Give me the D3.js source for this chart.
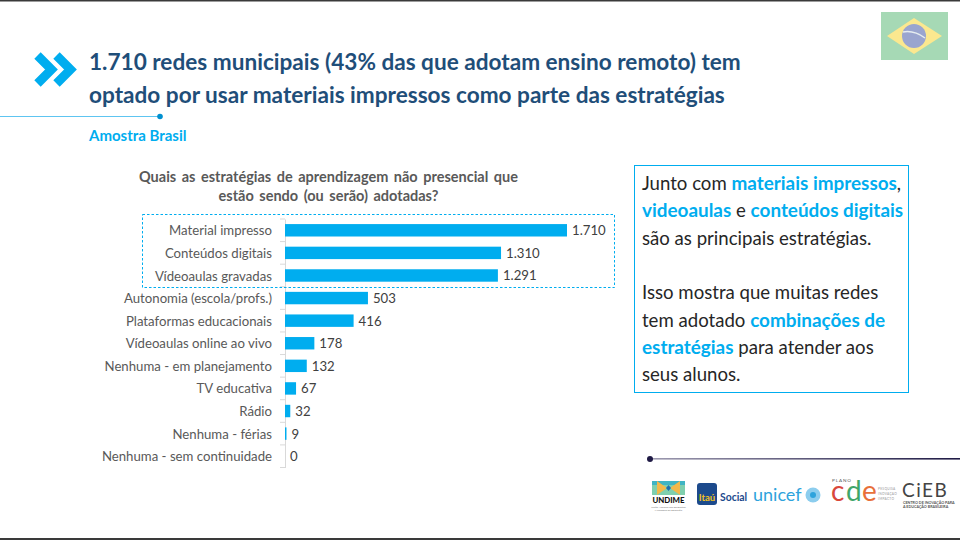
<!DOCTYPE html>
<html>
<head>
<meta charset="utf-8">
<script src="https://d3js.org/d3.v7.min.js"></script>
<style>
  html, body { margin: 0; padding: 0; background: #fff; }
  svg { display: block; font-family: Lato, "Open Sans", sans-serif; }
</style>
</head>
<body>
<div id="vis"></div>
<script>
var width = 960,
  height = 540;

var categories = [
  'Material impresso', 'Conteúdos digitais', 'Vídeoaulas gravadas',
  'Autonomia (escola/profs.)', 'Plataformas educacionais', 'Vídeoaulas online ao vivo',
  'Nenhuma - em planejamento', 'TV educativa', 'Rádio', 'Nenhuma - férias',
  'Nenhuma - sem continuidade'
];
var values = [ 1710, 1310, 1291, 503, 416, 178, 132, 67, 32, 9, 0 ];
var valueLabels = [ '1.710', '1.310', '1.291', '503', '416', '178', '132', '67', '32', '9', '0' ];

var titleLines = [
  '1.710 redes municipais (43% das que adotam ensino remoto) tem',
  'optado por usar materiais impressos como parte das estratégias'
];
var chartTitleLines = [
  'Quais as estratégias de aprendizagem não presencial que',
  'estão sendo (ou serão) adotadas?'
];
var boxLines = [
  [ [ 'Junto com ', 0 ], [ 'materiais impressos', 1 ], [ ',', 0 ] ],
  [ [ 'videoaulas', 1 ], [ ' e ', 0 ], [ 'conteúdos digitais', 1 ] ],
  [ [ 'são as principais estratégias.', 0 ] ],
  [],
  [ [ 'Isso mostra que muitas redes', 0 ] ],
  [ [ 'tem adotado ', 0 ], [ 'combinações de', 1 ] ],
  [ [ 'estratégias', 1 ], [ ' para atender aos', 0 ] ],
  [ [ 'seus alunos.', 0 ] ]
];

var blue = '#00adef',
  navy = '#1f4e79',
  textGrey = '#595959';

var svg = d3.select( '#vis' ).append( 'svg' )
  .attr( 'width', width )
  .attr( 'height', height );

// Page frame
svg.append( 'rect' ).attr( 'x', 0 ).attr( 'y', 0 ).attr( 'width', width ).attr( 'height', 1.5 ).attr( 'fill', '#3a3a3a' );
svg.append( 'rect' ).attr( 'x', 0 ).attr( 'y', 538 ).attr( 'width', width ).attr( 'height', 2 ).attr( 'fill', '#3a3a3a' );

// Header
[ 0, 19 ].forEach( dx => {
  svg.append( 'path' )
    .attr( 'd', 'M' + ( 37.5 + dx ) + ',55.5 L' + ( 51.5 + dx ) + ',69.5 L' + ( 37.5 + dx ) + ',83.5' )
    .attr( 'fill', 'none' )
    .attr( 'stroke', blue )
    .attr( 'stroke-width', 9 );
} );

svg.selectAll( 'text.title' )
  .data( titleLines )
  .enter().append( 'text' )
    .attr( 'class', 'title' )
    .attr( 'x', 89 )
    .attr( 'y', ( d, i ) => 69.5 + i * 33 )
    .attr( 'fill', navy )
    .style( 'font-size', '22.6px' )
    .style( 'font-weight', 700 )
    .text( d => d );

svg.append( 'line' ).attr( 'x1', 0 ).attr( 'x2', 160 ).attr( 'y1', 116.5 ).attr( 'y2', 116.5 )
  .attr( 'stroke', '#35b6ee' ).attr( 'stroke-width', 0.8 );
svg.append( 'circle' ).attr( 'cx', 160 ).attr( 'cy', 116.5 ).attr( 'r', 2.8 ).attr( 'fill', '#0090d0' );

svg.append( 'text' )
  .attr( 'x', 89 ).attr( 'y', 141 )
  .attr( 'fill', blue )
  .style( 'font-size', '15px' )
  .style( 'font-weight', 700 )
  .text( 'Amostra Brasil' );

// Flag
var flag = svg.append( 'g' );
flag.append( 'rect' ).attr( 'x', 881 ).attr( 'y', 12 ).attr( 'width', 67 ).attr( 'height', 48 ).attr( 'fill', '#a6d9b5' );
flag.append( 'path' ).attr( 'd', 'M887,36 L914,18 L942,36 L914,54 Z' ).attr( 'fill', '#fbe88f' );
flag.append( 'circle' ).attr( 'cx', 914 ).attr( 'cy', 36 ).attr( 'r', 12 ).attr( 'fill', '#9aa5cf' );
flag.append( 'path' ).attr( 'd', 'M903,32 Q914,30 925,38' ).attr( 'fill', 'none' ).attr( 'stroke', '#e6edf0' ).attr( 'stroke-width', 1.5 );

// Chart
svg.selectAll( 'text.chart-title' )
  .data( chartTitleLines )
  .enter().append( 'text' )
    .attr( 'class', 'chart-title' )
    .attr( 'x', 328.5 )
    .attr( 'y', ( d, i ) => 182 + i * 19 )
    .attr( 'text-anchor', 'middle' )
    .attr( 'fill', textGrey )
    .style( 'font-size', '14.5px' )
    .style( 'font-weight', 700 )
    .style( 'word-spacing', '2px' )
    .text( d => d );

var x = d3.scaleLinear()
  .domain( [ 0, 1710 ] )
  .range( [ 285, 567 ] );

var y = d3.scaleBand()
  .domain( categories )
  .range( [ 219, 467.5 ] )
  .paddingInner( 0.45 )
  .paddingOuter( 0.225 );

var yAxis = d3.axisLeft( y ).tickSize( 0 ).tickPadding( 13 );

var yG = svg.append( 'g' )
  .attr( 'transform', 'translate(285,0)' )
  .call( yAxis );
yG.select( '.domain' ).attr( 'stroke', '#d9d9d9' );
yG.selectAll( 'text' )
  .attr( 'fill', textGrey )
  .attr( 'dy', '0.38em' )
  .style( 'font-family', 'Lato, "Open Sans", sans-serif' )
  .style( 'font-size', '13.2px' );

// tick marks sit between the categories
var step = y.step();
svg.selectAll( 'line.sep' )
  .data( d3.range( categories.length + 1 ) )
  .enter().append( 'line' )
    .attr( 'class', 'sep' )
    .attr( 'x1', 280 ).attr( 'x2', 285 )
    .attr( 'y1', i => 219 + i * step )
    .attr( 'y2', i => 219 + i * step )
    .attr( 'stroke', '#d9d9d9' );

svg.selectAll( 'rect.bar' )
  .data( values )
  .enter().append( 'rect' )
    .attr( 'class', 'bar' )
    .attr( 'x', x( 0 ) )
    .attr( 'y', ( d, i ) => y( categories[ i ] ) )
    .attr( 'width', d => x( d ) - x( 0 ) )
    .attr( 'height', y.bandwidth() )
    .attr( 'fill', blue );

svg.selectAll( 'text.val' )
  .data( values )
  .enter().append( 'text' )
    .attr( 'class', 'val' )
    .attr( 'x', d => x( d ) + 5 )
    .attr( 'y', ( d, i ) => y( categories[ i ] ) + y.bandwidth() / 2 + 5 )
    .attr( 'fill', '#404040' )
    .style( 'font-size', '13.2px' )
    .text( ( d, i ) => valueLabels[ i ] );

svg.append( 'rect' )
  .attr( 'x', 142.5 ).attr( 'y', 214.5 ).attr( 'width', 472 ).attr( 'height', 73 )
  .attr( 'fill', 'none' )
  .attr( 'stroke', blue )
  .attr( 'stroke-width', 1 )
  .attr( 'stroke-dasharray', '2.5,2' );

// Text box
svg.append( 'rect' )
  .attr( 'x', 634.5 ).attr( 'y', 165.5 ).attr( 'width', 274 ).attr( 'height', 227 )
  .attr( 'fill', '#fff' )
  .attr( 'stroke', blue )
  .attr( 'stroke-width', 1 );

var boxText = svg.selectAll( 'text.box' )
  .data( boxLines )
  .enter().append( 'text' )
    .attr( 'class', 'box' )
    .attr( 'x', 642 )
    .attr( 'y', ( d, i ) => 190 + i * 27.35 )
    .style( 'font-size', '18.6px' );

boxText.selectAll( 'tspan' )
  .data( d => d )
  .enter().append( 'tspan' )
    .attr( 'fill', d => d[ 1 ] ? blue : '#262626' )
    .style( 'font-weight', d => d[ 1 ] ? 700 : 400 )
    .style( 'font-size', d => d[ 1 ] ? '18.9px' : '18.6px' )
    .style( 'white-space', 'pre' )
    .text( d => d[ 0 ] );

// Footer
var footLine = svg.append( 'defs' ).append( 'linearGradient' ).attr( 'id', 'footLine' );
footLine.append( 'stop' ).attr( 'offset', '0%' ).attr( 'stop-color', '#9d9ab0' );
footLine.append( 'stop' ).attr( 'offset', '100%' ).attr( 'stop-color', '#1f1a45' );
svg.append( 'rect' ).attr( 'x', 650 ).attr( 'y', 458 ).attr( 'width', 310 ).attr( 'height', 1.6 ).attr( 'fill', 'url(#footLine)' );
svg.append( 'circle' ).attr( 'cx', 650 ).attr( 'cy', 459 ).attr( 'r', 3 ).attr( 'fill', '#1f1a45' );

// Logos
var logos = svg.append( 'g' );
// UNDIME
logos.append( 'rect' ).attr( 'x', 652 ).attr( 'y', 481 ).attr( 'width', 33 ).attr( 'height', 14 ).attr( 'fill', '#7fcfae' );
logos.append( 'rect' ).attr( 'x', 652 ).attr( 'y', 481 ).attr( 'width', 33 ).attr( 'height', 4 ).attr( 'fill', '#3fb4c4' );
logos.append( 'path' ).attr( 'd', 'M657,481 L667,488 L657,495 Z M680,481 L670,488 L680,495 Z' ).attr( 'fill', '#f2b84b' );
logos.append( 'path' ).attr( 'd', 'M668.5,485 L671,488 L668.5,491 L666,488 Z' ).attr( 'fill', '#1c6fb0' );
logos.append( 'text' ).attr( 'x', 668.5 ).attr( 'y', 503 ).attr( 'text-anchor', 'middle' )
  .attr( 'fill', '#111' ).style( 'font-size', '7.8px' ).style( 'font-weight', 900 ).text( 'UNDIME' );
logos.append( 'text' ).attr( 'x', 668.5 ).attr( 'y', 508 ).attr( 'text-anchor', 'middle' )
  .attr( 'fill', '#777' ).style( 'font-size', '2.6px' ).text( 'União Nacional dos Dirigentes' );
logos.append( 'text' ).attr( 'x', 668.5 ).attr( 'y', 511 ).attr( 'text-anchor', 'middle' )
  .attr( 'fill', '#777' ).style( 'font-size', '2.6px' ).text( 'Municipais de Educação' );
// Itaú Social
logos.append( 'rect' ).attr( 'x', 697 ).attr( 'y', 483 ).attr( 'width', 20 ).attr( 'height', 22 ).attr( 'rx', 3 ).attr( 'fill', '#1c4a8c' );
logos.append( 'text' ).attr( 'x', 707 ).attr( 'y', 501 ).attr( 'text-anchor', 'middle' )
  .attr( 'fill', '#f6c21c' ).style( 'font-size', '9.5px' ).style( 'font-weight', 700 ).text( 'Itaú' );
logos.append( 'text' ).attr( 'x', 720 ).attr( 'y', 501 )
  .attr( 'fill', '#1c4a8c' ).style( 'font-size', '10.4px' ).style( 'font-weight', 700 ).text( 'Social' );
// unicef
logos.append( 'text' ).attr( 'x', 753 ).attr( 'y', 501 )
  .attr( 'fill', '#2ea3dc' ).style( 'font-size', '18px' ).text( 'unicef' );
logos.append( 'circle' ).attr( 'cx', 813 ).attr( 'cy', 495 ).attr( 'r', 7.5 ).attr( 'fill', '#8ccdee' );
logos.append( 'circle' ).attr( 'cx', 813 ).attr( 'cy', 495 ).attr( 'r', 3 ).attr( 'fill', '#2ea3dc' );
// Plano CDE
logos.append( 'text' ).attr( 'x', 832 ).attr( 'y', 482 )
  .attr( 'fill', '#555' ).style( 'font-size', '4.6px' ).style( 'letter-spacing', '0.9px' ).text( 'PLANO' );
logos.append( 'text' ).attr( 'x', 831 ).attr( 'y', 501 ).attr( 'fill', '#d9483b' ).style( 'font-size', '28px' ).text( 'c' );
logos.append( 'text' ).attr( 'x', 846 ).attr( 'y', 501 ).attr( 'fill', '#3fa66a' ).style( 'font-size', '28px' ).text( 'd' );
logos.append( 'text' ).attr( 'x', 862 ).attr( 'y', 501 ).attr( 'fill', '#e8703a' ).style( 'font-size', '28px' ).text( 'e' );
[ 'PESQUISA', 'INOVAÇÃO', 'IMPACTO' ].forEach( ( t, i ) => {
  logos.append( 'text' ).attr( 'x', 878 ).attr( 'y', 490 + i * 5 )
    .attr( 'fill', '#999' ).style( 'font-size', '3.2px' ).style( 'letter-spacing', '0.3px' ).text( t );
} );
// CIEB
logos.append( 'text' ).attr( 'x', 902 ).attr( 'y', 497 )
  .attr( 'fill', '#444' ).style( 'font-size', '19px' ).style( 'letter-spacing', '1.5px' ).text( 'CiEB' );
logos.append( 'text' ).attr( 'x', 903 ).attr( 'y', 504 )
  .attr( 'fill', '#555' ).style( 'font-size', '3.7px' ).style( 'font-weight', 700 ).text( 'CENTRO DE INOVAÇÃO PARA' );
logos.append( 'text' ).attr( 'x', 903 ).attr( 'y', 508 )
  .attr( 'fill', '#555' ).style( 'font-size', '3.7px' ).style( 'font-weight', 700 ).text( 'A EDUCAÇÃO BRASILEIRA' );
</script>
</body>
</html>
